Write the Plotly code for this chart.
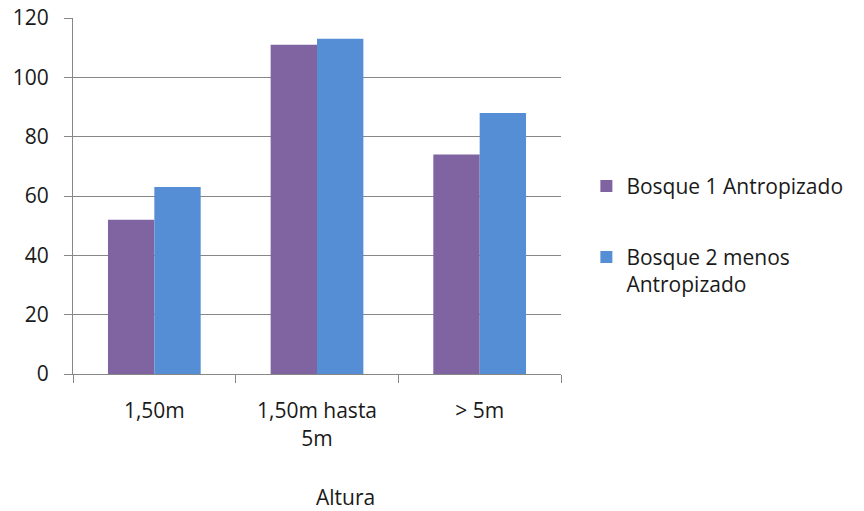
import plotly.graph_objects as go

# Altura categories and counts per forest plot
categorias = ["1,50m", "1,50m hasta<br>5m", "> 5m"]
bosque1 = [52, 111, 74]
bosque2 = [63, 113, 88]

nombre1 = "Bosque 1 Antropizado"
nombre2 = "Bosque 2 menos<br>Antropizado"

color1 = "#8064A2"
color2 = "#558ED5"
gris = "#878787"
fuente = "Open Sans"

fig = go.Figure()
fig.add_trace(go.Bar(x=categorias, y=bosque1, name=nombre1,
                     marker=dict(color=color1, line=dict(width=0)),
                     legend="legend"))
fig.add_trace(go.Bar(x=categorias, y=bosque2, name=nombre2,
                     marker=dict(color=color2, line=dict(width=0)),
                     legend="legend2"))

fig.update_layout(
    width=864, height=511,
    margin=dict(l=73, r=303, t=18, b=137, autoexpand=False),
    paper_bgcolor="white", plot_bgcolor="white",
    barmode="group", bargap=0.43, bargroupgap=0,
    font=dict(family=fuente, size=21, color="#1a1a1a"),
    showlegend=True,
    legend=dict(x=1.052, y=0.527, xanchor="left", yanchor="middle",
                font=dict(size=21), bgcolor="rgba(0,0,0,0)", valign="top"),
    legend2=dict(x=1.052, y=0.29, xanchor="left", yanchor="middle",
                 font=dict(size=21), bgcolor="rgba(0,0,0,0)", valign="top"),
    xaxis=dict(
        type="category", tickson="boundaries", ticks="outside",
        ticklen=8, tickcolor=gris, tickwidth=1,
        showline=True, linecolor=gris, linewidth=1,
        showgrid=False, ticklabelstandoff=18,
        tickfont=dict(size=21),
    ),
    yaxis=dict(
        range=[0, 120], dtick=20, tick0=0,
        ticks="outside", ticklen=8, tickcolor=gris, tickwidth=1,
        showline=True, linecolor=gris, linewidth=1,
        showgrid=True, gridcolor=gris, gridwidth=1,
        zeroline=False, ticklabelstandoff=11,
        tickfont=dict(size=21),
    ),
    annotations=[dict(text="Altura", xref="paper", yref="paper",
                      x=0.559, y=-0.345, xanchor="center", yanchor="middle",
                      showarrow=False, font=dict(size=21))],
)

fig.write_html("out.html")
